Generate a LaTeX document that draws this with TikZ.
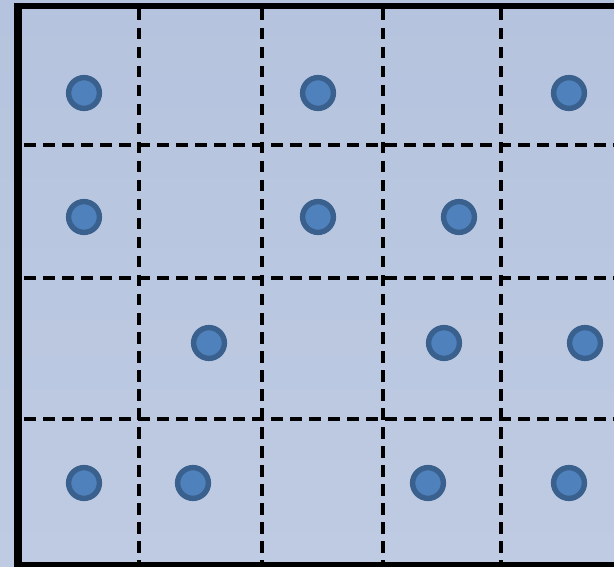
\documentclass[tikz,border=0pt]{standalone}
\usetikzlibrary{positioning}
\definecolor{bgtop}{RGB}{182,195,222}
\definecolor{bgbot}{RGB}{190,203,226}
\definecolor{dotfill}{RGB}{79,129,189}
\definecolor{dotline}{RGB}{58,96,142}
\tikzset{
  dot/.style={circle,draw=dotline,fill=dotfill,line width=5.4pt,minimum size=30.8pt,inner sep=0pt},
  gridline/.style={black,line width=3.2pt,dash pattern=on 11.5pt off 7.5pt},
  frame/.style={black}
}
\begin{document}
\begin{tikzpicture}[x=1pt,y=-1pt]
\useasboundingbox (0,0) rectangle (614,567);
\shade[top color=bgtop,bottom color=bgbot] (0,0) rectangle (614,567);
% grid
\coordinate (v1t) at (139,9); \coordinate (v1b) at (139,562);
\coordinate (v2t) at (262,9); \coordinate (v2b) at (262,562);
\coordinate (v3t) at (383,9); \coordinate (v3b) at (383,562);
\coordinate (v4t) at (501,9); \coordinate (v4b) at (501,562);
\coordinate (h1l) at (24,145); \coordinate (h1r) at (614,145);
\coordinate (h2l) at (24,278); \coordinate (h2r) at (614,278);
\coordinate (h3l) at (24,419); \coordinate (h3r) at (614,419);
\foreach \n in {1,2,3,4} \draw[gridline] (v\n t) -- (v\n b);
\foreach \n in {1,2,3} \draw[gridline] (h\n l) -- (h\n r);
% frame
\coordinate (tl) at (18,6); \coordinate (tr) at (620,6);
\coordinate (bl) at (18,565); \coordinate (br) at (620,565);
\coordinate (lt) at (18,3); \coordinate (lb) at (18,567);
\draw[frame,line width=6pt] (tl) -- (tr);
\draw[frame,line width=6pt] (bl) -- (br);
\draw[frame,line width=8pt] (lt) -- (lb);
% dots
\node[dot] (a1) at (84,93) {};
\node[dot] (a2) at (318,93) {};
\node[dot] (a3) at (569,93) {};
\node[dot] (b1) at (84,217) {};
\node[dot] (b2) at (318,217) {};
\node[dot] (b3) at (459,217) {};
\node[dot] (c1) at (209,343) {};
\node[dot] (c2) at (444,343) {};
\node[dot] (c3) at (585,343) {};
\node[dot] (d1) at (84,483) {};
\node[dot] (d2) at (193,483) {};
\node[dot] (d3) at (428,483) {};
\node[dot] (d4) at (569,483) {};
\end{tikzpicture}
\end{document}
